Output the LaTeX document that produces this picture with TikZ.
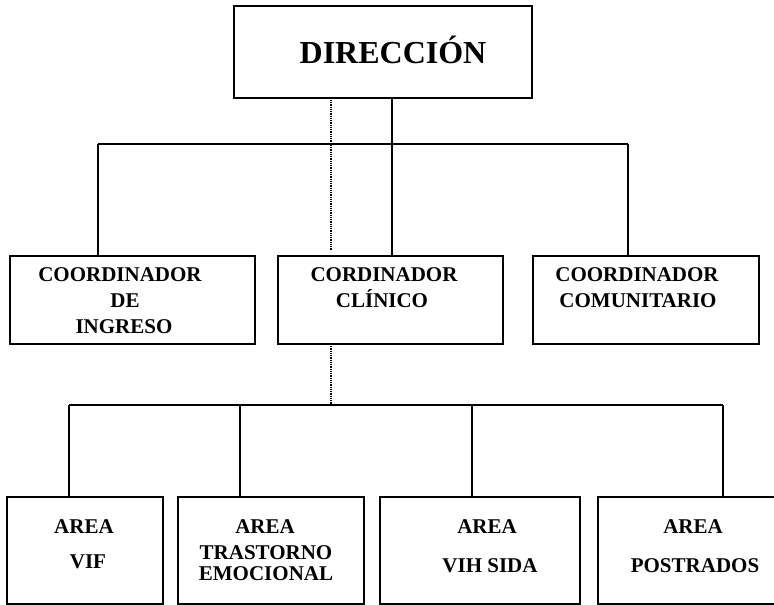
\documentclass[tikz,border=0pt]{standalone}
\usepackage{fontspec}
\setmainfont{Liberation Serif}
\begin{document}
\begin{tikzpicture}[x=1pt,y=-1pt,
  box/.style={draw,line width=1.4pt,rectangle,anchor=north west,inner sep=0pt,outer sep=0pt},
  conn/.style={line width=1.4pt},
  dotline/.style={line width=1.6pt,dash pattern=on 1pt off 0.8pt},
  txt/.style={anchor=base,inner sep=0pt,font=\bfseries\fontsize{21}{24}\selectfont},
  big/.style={anchor=base,inner sep=0pt,font=\bfseries\fontsize{32}{36}\selectfont}]
\useasboundingbox (0,0) rectangle (774,605);
\clip (0,0) rectangle (774,605);
% boxes
\node[box,minimum width=298pt,minimum height=92pt] (dir) at (234,6) {};
\node[box,minimum width=245pt,minimum height=88pt] (c1) at (10,256) {};
\node[box,minimum width=225pt,minimum height=88pt] (c2) at (278,256) {};
\node[box,minimum width=226pt,minimum height=88pt] (c3) at (533,256) {};
\node[box,minimum width=156pt,minimum height=107pt] (a1) at (7,497) {};
\node[box,minimum width=186pt,minimum height=107pt] (a2) at (178,497) {};
\node[box,minimum width=200pt,minimum height=107pt] (a3) at (380,497) {};
\node[box,minimum width=180pt,minimum height=107pt] (a4) at (598,497) {};
% texts
\node[big] (tdir) at (393,63) {DIRECCIÓN};
\node[txt] (t1a) at (120,281) {COORDINADOR};
\node[txt] (t1b) at (125,307) {DE};
\node[txt] (t1c) at (124,333) {INGRESO};
\node[txt] (t2a) at (384,281) {CORDINADOR};
\node[txt] (t2b) at (382,307) {CLÍNICO};
\node[txt] (t3a) at (637,281) {COORDINADOR};
\node[txt] (t3b) at (638,307) {COMUNITARIO};
\node[txt] (a1a) at (84,533) {AREA};
\node[txt] (a1b) at (88,568) {VIF};
\node[txt] (a2a) at (265,533) {AREA};
\node[txt,anchor=north,align=center,font=\bfseries\fontsize{21}{21.5}\selectfont] (a2b) at (266,545) {TRASTORNO\\EMOCIONAL};
\node[txt] (a3a) at (487,533) {AREA};
\node[txt] (a3b) at (490,572) {VIH SIDA};
\node[txt] (a4a) at (693,533) {AREA};
\node[txt] (a4b) at (695,572) {POSTRADOS};
% upper connectors
\coordinate (uL) at (98,144);
\coordinate (uM) at (392,144);
\coordinate (uR) at (628,144);
\draw[conn] (uL) -- (uR);
\draw[conn] (dir.south -| uM) -- (c2.north -| uM);
\draw[conn] (uL) -- (uL |- c1.north);
\draw[conn] (uR) -- (uR |- c3.north);
\coordinate (dTop) at (331,100);
\coordinate (dBot) at (331,250);
\draw[dotline] (dTop) -- (dBot);
% lower connectors
\coordinate (lL) at (69,405);
\coordinate (lB) at (240,405);
\coordinate (lC) at (472,405);
\coordinate (lR) at (723,405);
\coordinate (dL) at (331,405);
\draw[conn] (lL) -- (lR);
\draw[dotline] (c2.south -| dL) -- (dL);
\draw[conn] (lL) -- (lL |- a1.north);
\draw[conn] (lB) -- (lB |- a2.north);
\draw[conn] (lC) -- (lC |- a3.north);
\draw[conn] (lR) -- (lR |- a4.north);
\end{tikzpicture}
\end{document}
